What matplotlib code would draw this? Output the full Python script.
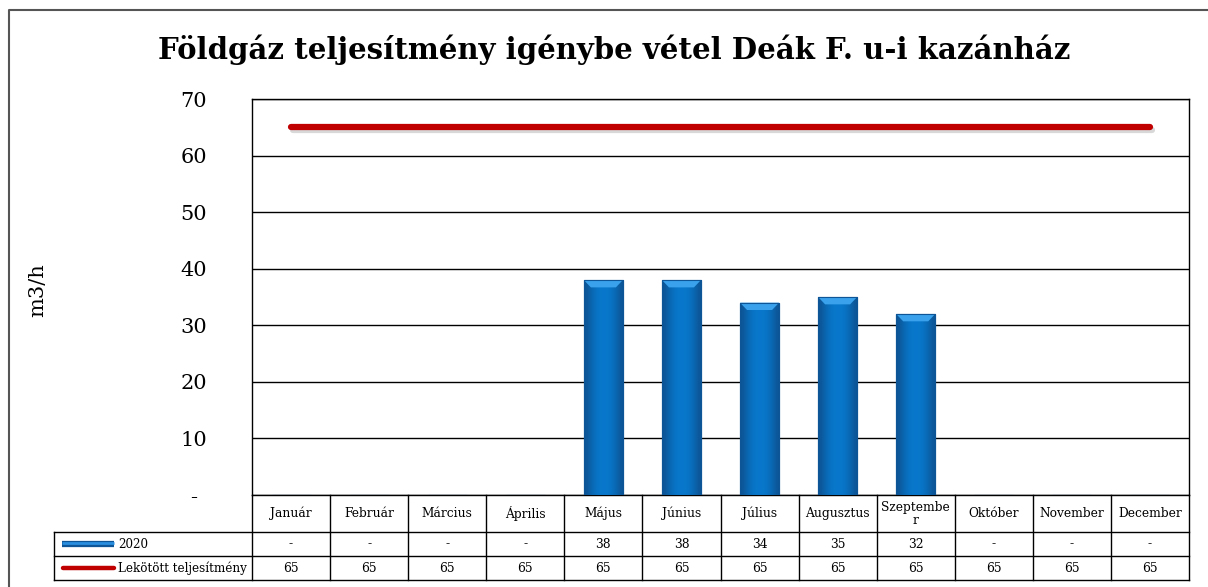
import numpy as np
import matplotlib.pyplot as plt
from matplotlib import patheffects as pe
from matplotlib.patches import Polygon

W, H = 1208, 587

months = ["Január", "Február", "Március", "Április", "Május", "Június",
          "Július", "Augusztus", "Szeptembe\nr", "Október", "November", "December"]
usage_2020 = [0, 0, 0, 0, 38, 38, 34, 35, 32, 0, 0, 0]
contracted = [65] * 12
yticks = [0, 10, 20, 30, 40, 50, 60, 70]
ytick_labels = ["-", "10", "20", "30", "40", "50", "60", "70"]

title = "Földgáz teljesítmény igénybe vétel Deák F. u-i kazánház"
series_names = ["2020", "Lekötött teljesítmény"]

plt.rcParams["font.family"] = ["DejaVu Serif"]

fig = plt.figure(figsize=(W / 100, H / 100), dpi=100)

# plot area in pixel terms
left, right, top, bottom = 252, 1189, 99, 495
ax = fig.add_axes([left / W, 1 - bottom / H, (right - left) / W, (bottom - top) / H])

x = np.arange(len(months))
ax.set_xlim(-0.5, len(months) - 0.5)
ax.set_ylim(0, 70)
ax.set_yticks(yticks)
ax.set_yticklabels(ytick_labels, fontsize=15, ha="center")
ax.tick_params(axis="y", length=0, pad=42)
ax.set_xticks([])
ax.grid(axis="y", color="black", lw=1)
ax.set_axisbelow(True)
for s in ax.spines.values():
    s.set_color("black")
    s.set_linewidth(1)

# bars with a horizontal gradient and a lighter top bevel
bw = 0.5
grad = np.array([[0.0, 0.5, 0.85, 1.0, 1.0, 0.85, 0.5, 0.0]])
cmap = plt.matplotlib.colors.LinearSegmentedColormap.from_list("b", ["#0c5595", "#0878cc"])
bars = ax.bar(x, usage_2020, width=bw, color="#0872c8", edgecolor="#0d5596", lw=0.8, zorder=3)
for xi, h, b in zip(x, usage_2020, bars):
    if h <= 0:
        continue
    im = ax.imshow(grad, cmap=cmap, extent=(xi - bw / 2, xi + bw / 2, 0, h),
                   aspect="auto", zorder=3.1, interpolation="bicubic")
    im.set_clip_path(b)
    cap = Polygon([(xi - bw / 2, h), (xi + bw / 2, h), (xi + bw / 2 - 0.09, h - 1.3),
                   (xi - bw / 2 + 0.09, h - 1.3)], closed=True,
                  facecolor="#3aa2ec", edgecolor="none", zorder=3.2)
    ax.add_patch(cap)
    ax.bar(xi, h, width=bw, facecolor="none", edgecolor="#0d5596", lw=0.8, zorder=3.3)

ax.plot(x, contracted, color="#c00000", lw=4.5, solid_capstyle="round", zorder=4,
        path_effects=[pe.SimpleLineShadow(offset=(1.5, -2), shadow_color="gray", alpha=0.3),
                      pe.Normal()])

fig.text(38 / W, 1 - 290 / H, "m3/h", rotation=90, fontsize=15, ha="center", va="center")
fig.text(614 / W, 1 - 50 / H, title, fontsize=21, fontweight="bold", ha="center", va="center")

# overlay in pixel coordinates: data table and outer border
ov = fig.add_axes([0, 0, 1, 1], facecolor="none")
ov.set_xlim(0, W)
ov.set_ylim(H, 0)
ov.axis("off")

ov.plot([9, 9, W - 1], [H, 10, 10], color="#555555", lw=1.5)

tab_left = 54
row_y = [495, 532, 556, 580]
col_w = (right - left) / len(months)
for yy in row_y[1:]:
    ov.plot([tab_left, right], [yy, yy], color="black", lw=1)
ov.plot([tab_left, tab_left], [row_y[1], row_y[3]], color="black", lw=1)
for i in range(len(months) + 1):
    ov.plot([left + i * col_w, left + i * col_w], [row_y[0], row_y[3]], color="black", lw=1)

def fmt(v):
    return "-" if v == 0 else str(v)

for i, m in enumerate(months):
    cx = left + (i + 0.5) * col_w
    ov.text(cx, (row_y[0] + row_y[1]) / 2, m, fontsize=8.8, ha="center", va="center",
            linespacing=1.0)
    ov.text(cx, (row_y[1] + row_y[2]) / 2, fmt(usage_2020[i]), fontsize=8.8,
            ha="center", va="center")
    ov.text(cx, (row_y[2] + row_y[3]) / 2, fmt(contracted[i]), fontsize=8.8,
            ha="center", va="center")

# legend keys inside the table
y1 = (row_y[1] + row_y[2]) / 2
y2 = (row_y[2] + row_y[3]) / 2
ov.plot([62, 114], [y1, y1], color="#0d5596", lw=4.5, solid_capstyle="butt")
ov.plot([62, 114], [y1 - 0.6, y1 - 0.6], color="#2a8ee0", lw=2, solid_capstyle="butt")
ov.plot([63, 114], [y2, y2], color="#c00000", lw=3.2, solid_capstyle="round")
ov.text(118, y1, series_names[0], fontsize=8.6, ha="left", va="center")
ov.text(118, y2, series_names[1], fontsize=8.6, ha="left", va="center")

fig.savefig("out.png", dpi=100)
